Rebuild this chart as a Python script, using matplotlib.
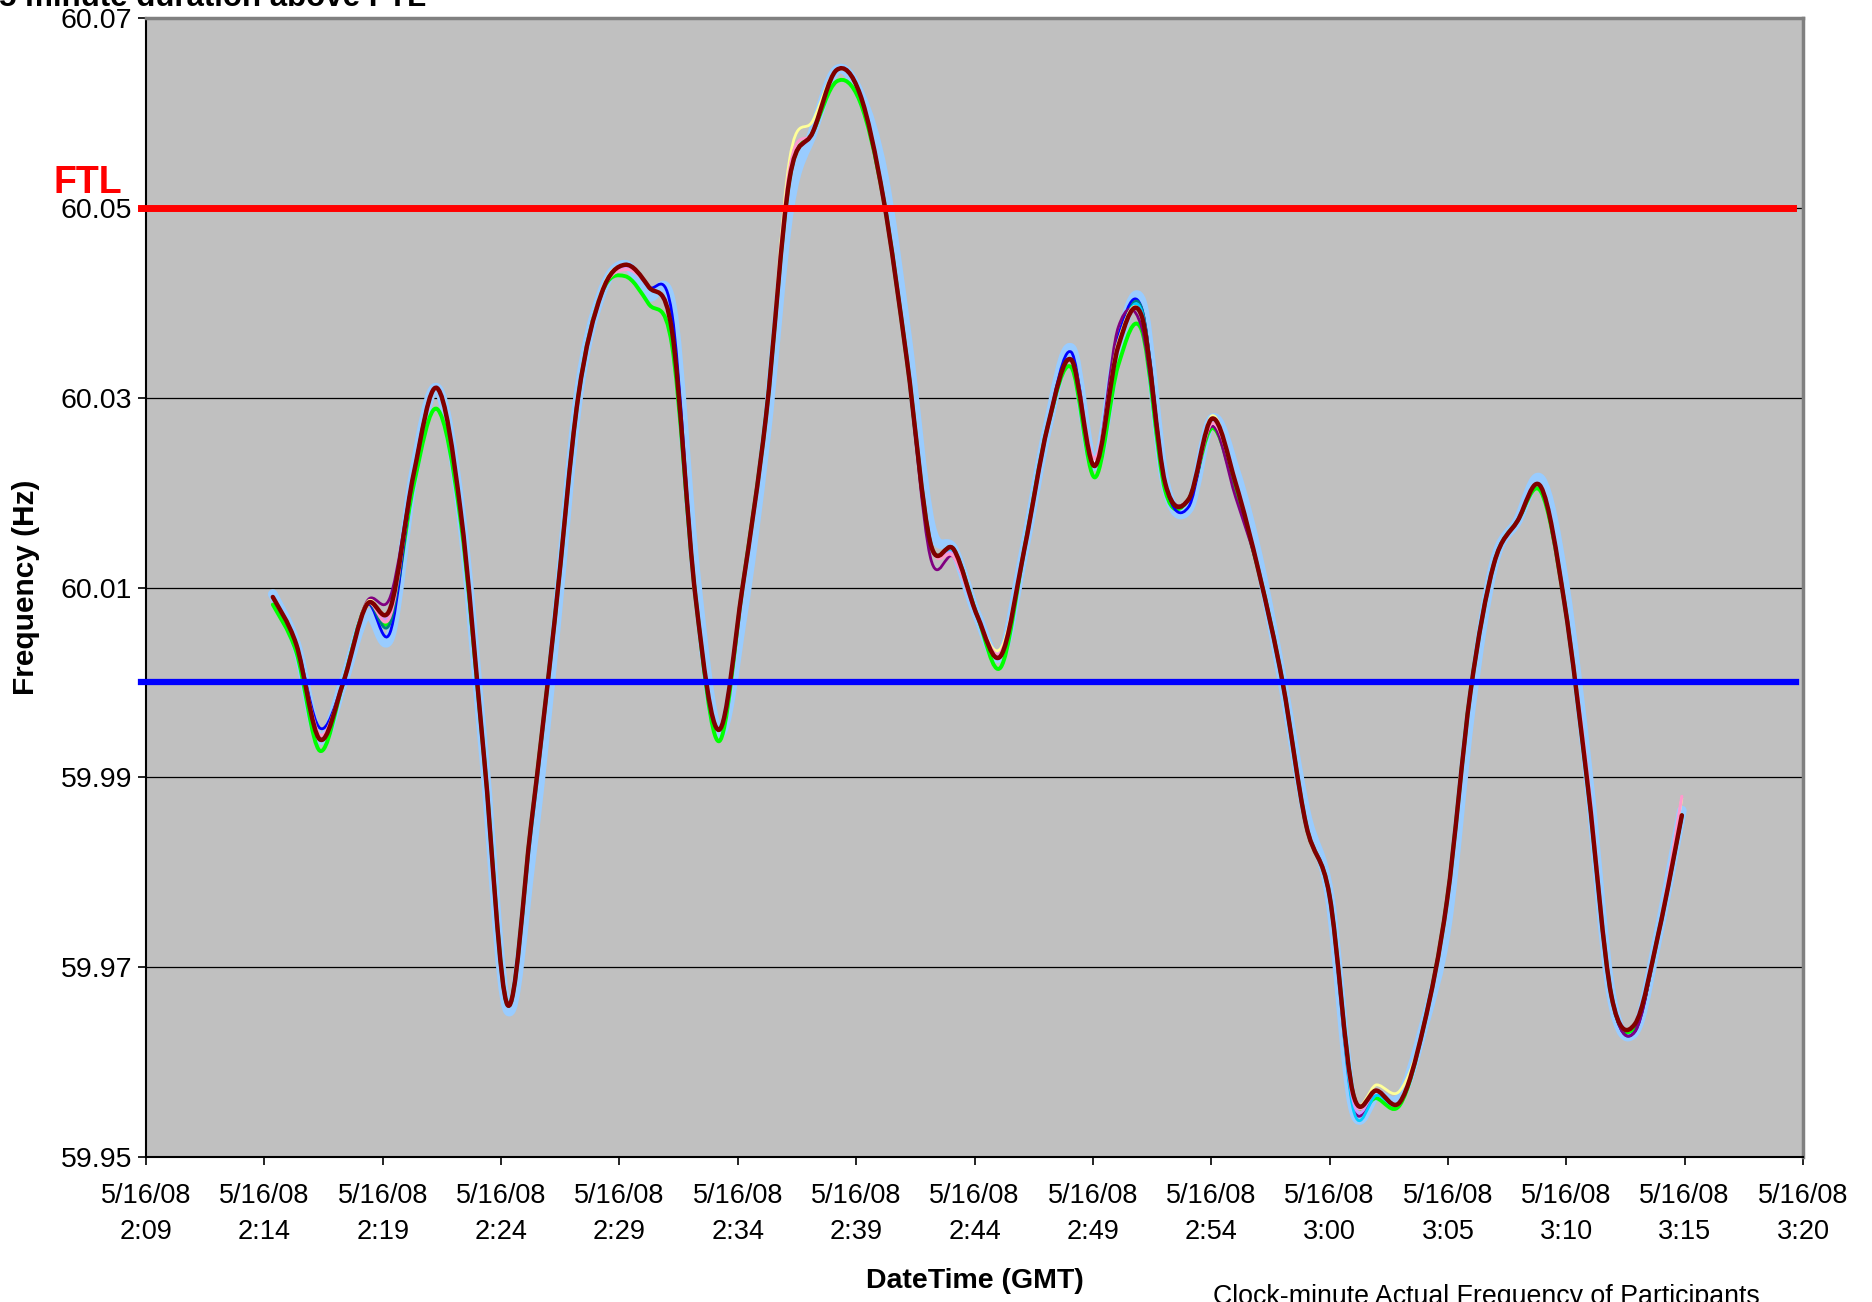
import numpy as np
import matplotlib.pyplot as plt
from matplotlib.path import Path
from matplotlib.patches import PathPatch
from matplotlib import font_manager

# clock-minute samples, minutes after 2:00 GMT (2:15 ... 3:15)
minutes = np.arange(15, 76)

# reference participant (dark red, drawn on top)
freq_main = [60.009, 60.004, 59.994, 60.000, 60.0082, 60.0078, 60.022, 60.031, 60.018, 59.992,
             59.966, 59.985, 60.0065, 60.030, 60.041, 60.044, 60.0417, 60.037, 60.009, 59.995,
             60.010, 60.028, 60.053, 60.058, 60.0645, 60.062, 60.051, 60.034, 60.0147, 60.014,
             60.007, 60.0028, 60.014, 60.027, 60.034, 60.0228, 60.0354, 60.0386, 60.021, 60.0193,
             60.0278, 60.021, 60.0115, 60.000, 59.985, 59.9775, 59.9567, 59.957, 59.9558, 59.9637,
             59.977, 59.999, 60.0125, 60.017, 60.0206, 60.0084, 59.989, 59.967, 59.964, 59.9735,
             59.986]

# other participants: offsets (Hz) from the reference, by minute index
dev_lightblue = {0: 0.0003, 4: -0.001, 5: -0.003, 10: -0.0005, 11: -0.0035, 12: -0.002, 16: -0.001,
                 17: 0.0025, 18: 0.0025, 19: -0.0003, 20: -0.003, 21: -0.002, 22: -0.003, 26: 0.0025,
                 27: 0.0025, 28: 0.002, 34: 0.0012, 37: 0.0015, 39: -0.001, 41: 0.0012,
                 42: 0.0012, 44: 0.0012, 46: -0.0015, 47: -0.0005, 48: 0.0005, 50: -0.0025,
                 51: -0.002, 54: 0.0008, 55: 0.002, 56: 0.0015, 58: -0.0008, 60: 0.0005}
dev_green = {0: -0.0008, 1: -0.0008, 2: -0.0012, 5: -0.0012, 6: -0.0012, 7: -0.0022, 8: -0.001,
             15: -0.0012, 16: -0.0018, 17: -0.0015, 19: -0.0012, 24: -0.0012, 25: -0.0008,
             31: -0.0012, 34: -0.0008, 35: -0.0012, 36: -0.002, 37: -0.0015, 38: -0.0008,
             40: -0.001, 41: -0.0008, 47: -0.0008, 48: -0.0003, 54: -0.0005, 58: -0.0003}
dev_blue = {2: 0.0012, 5: -0.0025, 17: 0.0018, 34: 0.0008, 36: 0.001, 37: 0.0008,
            39: -0.0008, 58: -0.0008, 60: -0.0002}
dev_purple = {4: 0.0003, 5: 0.0012, 28: -0.0015, 29: -0.0008, 36: 0.002, 37: -0.0012,
              40: -0.0008, 41: -0.0015, 46: -0.0012, 58: -0.0008}
dev_pink = {2: 0.0005, 5: -0.0008, 15: -0.0005, 22: 0.001, 29: -0.0008, 31: 0.0004,
            35: 0.0008, 40: -0.0005, 46: -0.0003, 56: 0.001, 60: 0.002}
dev_yellow = {4: 0.0002, 14: 0.0003, 22: 0.002, 23: 0.0012, 31: 0.0008, 36: 0.0005,
              40: 0.0003, 47: 0.0006, 48: 0.0012, 60: 0.0018}
dev_cyan = {11: -0.0008, 29: -0.0005, 37: 0.0005, 46: -0.0016, 47: -0.0005}
dev_teal = {5: -0.0015, 37: 0.0008, 46: -0.0002}
dev_lavender = {5: -0.0005, 15: -0.0003, 29: -0.0006, 46: -0.0008}
dev_white = {31: 0.0005, 35: 0.0005}

ftl_level = 60.05
scheduled = 60.00

y_ticks = [59.95, 59.97, 59.99, 60.01, 60.03, 60.05, 60.07]
x_ticks = [9.6 + 5.04 * k for k in range(15)]
x_labels = ['5/16/08\n2:09', '5/16/08\n2:14', '5/16/08\n2:19', '5/16/08\n2:24',
            '5/16/08\n2:29', '5/16/08\n2:34', '5/16/08\n2:39', '5/16/08\n2:44',
            '5/16/08\n2:49', '5/16/08\n2:54', '5/16/08\n3:00', '5/16/08\n3:05',
            '5/16/08\n3:10', '5/16/08\n3:15', '5/16/08\n3:20']

names = {f.name for f in font_manager.fontManager.ttflist}
fam = 'Liberation Sans Narrow' if 'Liberation Sans Narrow' in names else 'Liberation Sans'
plt.rcParams['font.family'] = [fam, 'DejaVu Sans']


def smooth_path(x, y):
    # Excel-style smoothed line: cubic bezier through every point
    x = np.asarray(x, float)
    y = np.asarray(y, float)
    xp = np.r_[x[0], x, x[-1]]
    yp = np.r_[y[0], y, y[-1]]
    verts = [(x[0], y[0])]
    codes = [Path.MOVETO]
    for i in range(len(x) - 1):
        c1 = (x[i] + (xp[i + 2] - xp[i]) / 6, y[i] + (yp[i + 2] - yp[i]) / 6)
        c2 = (x[i + 1] - (xp[i + 3] - xp[i + 1]) / 6, y[i + 1] - (yp[i + 3] - yp[i + 1]) / 6)
        verts += [c1, c2, (x[i + 1], y[i + 1])]
        codes += [Path.CURVE4] * 3
    return Path(verts, codes)


def series(dev):
    vals = np.array(freq_main, float)
    for k, d in dev.items():
        vals[k] += d
    return vals


W, H = 1872, 1302
fig = plt.figure(figsize=(W / 100, H / 100), dpi=100)
ax = fig.add_axes([146 / W, (H - 1157) / H, (1803 - 146) / W, (1157 - 18) / H])
ax.set_facecolor('#C0C0C0')

layers = [(dev_lightblue, '#99CCFF', 7.0),
          (dev_green, '#00FF00', 2.8),
          (dev_blue, '#0000FF', 2.0),
          (dev_teal, '#008080', 2.0),
          (dev_purple, '#800080', 2.0),
          (dev_cyan, '#00CCFF', 2.0),
          (dev_lavender, '#CC99FF', 2.0),
          (dev_white, '#FFFFFF', 1.2),
          (dev_yellow, '#FFFF99', 2.0),
          (dev_pink, '#FF99CC', 2.2)]
for dev, col, lw in layers:
    ax.add_patch(PathPatch(smooth_path(minutes, series(dev)), fill=False, edgecolor=col,
                           lw=lw, capstyle='round', joinstyle='round', zorder=3))
ax.add_patch(PathPatch(smooth_path(minutes, freq_main), fill=False, edgecolor='#800000',
                       lw=3.2, capstyle='round', joinstyle='round', zorder=4))

ax.axhline(ftl_level, xmin=-0.003, xmax=0.994, color='#FF0000', lw=5, clip_on=False, zorder=5)
ax.axhline(scheduled, xmin=-0.003, xmax=0.996, color='#0000FF', lw=4.5, clip_on=False, zorder=5)

ax.set_xlim(9.6, 80.16)
ax.set_ylim(59.95, 60.07)
ax.set_yticks(y_ticks)
ax.set_yticklabels(['%.2f' % v for v in y_ticks])
ax.set_xticks(x_ticks)
ax.set_xticklabels(x_labels, linespacing=1.5)
ax.yaxis.grid(True, color='black', lw=0.9, zorder=1)
ax.set_axisbelow(True)
ax.tick_params(axis='both', direction='out', length=6, width=1.2, color='black')
ax.tick_params(axis='y', pad=4, labelsize=20.5)
ax.tick_params(axis='x', pad=13, labelsize=19.5)

for s in ['left', 'bottom']:
    ax.spines[s].set_color('black')
    ax.spines[s].set_linewidth(1.5)
for s in ['top', 'right']:
    ax.spines[s].set_color('#808080')
    ax.spines[s].set_linewidth(2.5)

fig.text(26 / W, 1 - 587 / H, 'Frequency (Hz)', rotation=90, ha='center', va='center',
         fontsize=21.5, fontweight='bold')
fig.text(975 / W, 1 - 1281 / H, 'DateTime (GMT)', ha='center', va='center',
         fontsize=20.5, fontweight='bold')
fig.text(1213 / W, 1 - 1284 / H, 'Clock-minute Actual Frequency of Participants',
         ha='left', va='top', fontsize=19.3)
fig.text(54 / W, 1 - 193 / H, 'FTL', ha='left', va='baseline', color='#FF0000',
         fontsize=27, fontweight='bold')
fig.text(426 / W, 1 - 6 / H, '5 minute duration above FTL', ha='right', va='baseline',
         fontsize=22.5, fontweight='bold')

fig.savefig('out.png', dpi=100, facecolor='white')
